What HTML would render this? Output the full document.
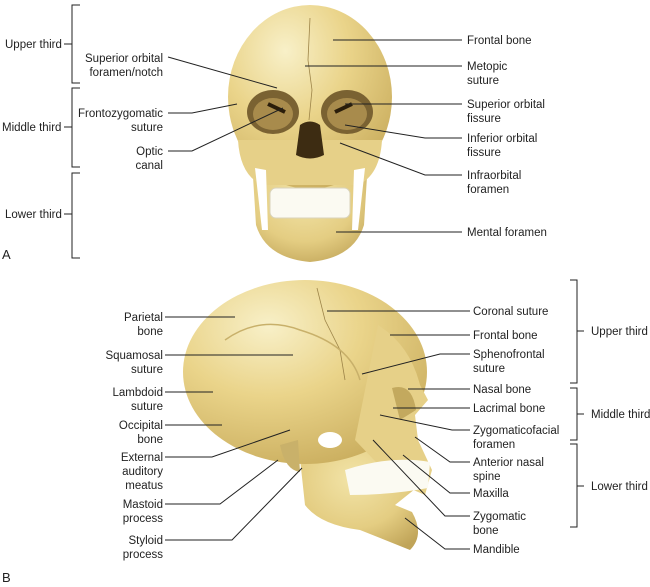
<!DOCTYPE html>
<html><head><meta charset="utf-8"><style>
html,body{margin:0;padding:0;background:#fff;}
svg{display:block;}
text{font-family:"Liberation Sans",Arial,sans-serif;font-size:11.5px;fill:#222;}
</style></head><body>
<svg width="650" height="587" viewBox="0 0 650 587" xmlns="http://www.w3.org/2000/svg">
<defs>
<radialGradient id="g1" cx="0.35" cy="0.25" r="0.85"><stop offset="0" stop-color="#f8f0c8"/><stop offset="0.45" stop-color="#ead48a"/><stop offset="1" stop-color="#c7aa5a"/></radialGradient>
<radialGradient id="g2" cx="0.45" cy="0.35" r="0.75"><stop offset="0" stop-color="#f2e4a8"/><stop offset="0.6" stop-color="#e4cd82"/><stop offset="1" stop-color="#c0a458"/></radialGradient>
</defs>
<!-- Skull A -->
<g>
<path d="M252,160 L256,225 Q266,258 310,262 Q354,258 364,225 L368,160 Z" fill="url(#g2)"/>
<ellipse cx="310" cy="97" rx="82" ry="92" fill="url(#g1)"/>
<path d="M238,140 Q240,175 262,185 L358,185 Q380,175 382,140 Z" fill="#e6d088"/>
<path d="M255,168 L262,230 L268,230 L266,170 Z M365,168 L358,230 L352,230 L354,170 Z" fill="#fff"/>
<ellipse cx="273" cy="112" rx="26" ry="22" fill="#7a6232"/>
<ellipse cx="347" cy="112" rx="26" ry="22" fill="#7a6232"/>
<ellipse cx="273" cy="114" rx="20" ry="16" fill="#a88b4c"/>
<ellipse cx="347" cy="114" rx="20" ry="16" fill="#a88b4c"/>
<path d="M268,104 L285,112" stroke="#2a1d0a" stroke-width="4"/>
<path d="M352,104 L335,112" stroke="#2a1d0a" stroke-width="4"/>
<path d="M300,125 Q310,118 320,125 L324,155 Q310,162 296,155 Z" fill="#3d2c12"/>
<rect x="270" y="188" width="80" height="30" rx="6" fill="#fbfaf2" stroke="#d9d3bb"/>
<path d="M310,18 L308,60 L312,90 L309,120" stroke="#9d8448" fill="none" stroke-width="0.8"/>
</g>
<!-- Skull B -->
<g>
<path d="M298,440 L305,505 Q320,525 360,530 L410,550 Q425,535 412,512 L395,505 L420,485 L400,440 Z" fill="url(#g2)"/>
<ellipse cx="305" cy="372" rx="122" ry="92" fill="url(#g1)"/>
<path d="M378,325 Q410,345 420,385 L428,400 L415,415 L418,440 L432,470 L425,495 L395,482 L355,440 Z" fill="#e6d088"/>
<path d="M392,388 Q412,382 416,410 L400,420 Z" fill="#c3a95e"/>
<path d="M345,470 Q390,455 430,462 L428,488 Q390,495 350,495 Z" fill="#fbfaf2"/>
<ellipse cx="330" cy="440" rx="12" ry="8" fill="#fff"/>
<path d="M280,445 Q285,470 300,472 L298,440 Z" fill="#c9b16a"/>
<path d="M317,288 L325,320 L340,350 L345,380" stroke="#9d8448" fill="none" stroke-width="0.8"/>
<path d="M225,340 Q260,315 300,330 Q350,345 360,380" stroke="#c8b06a" fill="none" stroke-width="1.5"/>
</g>
<g stroke="#222" stroke-width="1" fill="none">
<path d="M80,5 H72 V83 H80 M64,44 H72"/>
<path d="M80,88 H72 V167 H80 M64,127 H72"/>
<path d="M80,173 H72 V258 H80 M64,214 H72"/>
<path d="M168,57 L277,88"/>
<path d="M168,113 H192 L237,104"/>
<path d="M168,151 H192 L283,108"/>
<path d="M333,40 H462"/>
<path d="M305,66 H462"/>
<path d="M345,104 H462"/>
<path d="M345,125 L425,138 H462"/>
<path d="M340,143 L425,175 H462"/>
<path d="M336,232 H462"/>
<path d="M165,317 H235"/>
<path d="M165,355 H293"/>
<path d="M165,392 H213"/>
<path d="M165,425 H222"/>
<path d="M165,457 H212 L290,430"/>
<path d="M165,504 H220 L278,460"/>
<path d="M165,540 H232 L302,468"/>
<path d="M327,311 H470"/>
<path d="M390,335 H470"/>
<path d="M362,374 L440,354 H470"/>
<path d="M408,389 H470"/>
<path d="M393,408 H470"/>
<path d="M380,415 L452,430 H470"/>
<path d="M415,437 L450,462 H470"/>
<path d="M403,455 L450,493 H470"/>
<path d="M373,440 L445,516 H470"/>
<path d="M405,518 L445,549 H470"/>
<path d="M570,280 H577 V383 H570 M577,331 H584"/>
<path d="M570,388 H577 V440 H570 M577,414 H584"/>
<path d="M570,444 H577 V527 H570 M577,486 H584"/>
</g>
<g>
<text x="5" y="48">Upper third</text>
<text x="2" y="131">Middle third</text>
<text x="5" y="218">Lower third</text>
<text x="2" y="259" style="font-size:13px">A</text>
<g text-anchor="end">
<text x="163" y="62">Superior orbital</text>
<text x="163" y="76">foramen/notch</text>
<text x="163" y="117">Frontozygomatic</text>
<text x="163" y="131">suture</text>
<text x="163" y="155">Optic</text>
<text x="163" y="169">canal</text>
</g>
<text x="467" y="44">Frontal bone</text>
<text x="467" y="70">Metopic</text>
<text x="467" y="84">suture</text>
<text x="467" y="108">Superior orbital</text>
<text x="467" y="122">fissure</text>
<text x="467" y="142">Inferior orbital</text>
<text x="467" y="156">fissure</text>
<text x="467" y="179">Infraorbital</text>
<text x="467" y="193">foramen</text>
<text x="467" y="236">Mental foramen</text>
<g text-anchor="end">
<text x="163" y="321">Parietal</text>
<text x="163" y="335">bone</text>
<text x="163" y="359">Squamosal</text>
<text x="163" y="373">suture</text>
<text x="163" y="396">Lambdoid</text>
<text x="163" y="410">suture</text>
<text x="163" y="429">Occipital</text>
<text x="163" y="443">bone</text>
<text x="163" y="461">External</text>
<text x="163" y="475">auditory</text>
<text x="163" y="489">meatus</text>
<text x="163" y="508">Mastoid</text>
<text x="163" y="522">process</text>
<text x="163" y="544">Styloid</text>
<text x="163" y="558">process</text>
</g>
<text x="473" y="315">Coronal suture</text>
<text x="473" y="339">Frontal bone</text>
<text x="473" y="358">Sphenofrontal</text>
<text x="473" y="372">suture</text>
<text x="473" y="393">Nasal bone</text>
<text x="473" y="412">Lacrimal bone</text>
<text x="473" y="434">Zygomaticofacial</text>
<text x="473" y="448">foramen</text>
<text x="473" y="466">Anterior nasal</text>
<text x="473" y="480">spine</text>
<text x="473" y="497">Maxilla</text>
<text x="473" y="520">Zygomatic</text>
<text x="473" y="534">bone</text>
<text x="473" y="553">Mandible</text>
<text x="591" y="335">Upper third</text>
<text x="591" y="418">Middle third</text>
<text x="591" y="490">Lower third</text>
<text x="2" y="582" style="font-size:13px">B</text>
</g>
</svg>
</body></html>
